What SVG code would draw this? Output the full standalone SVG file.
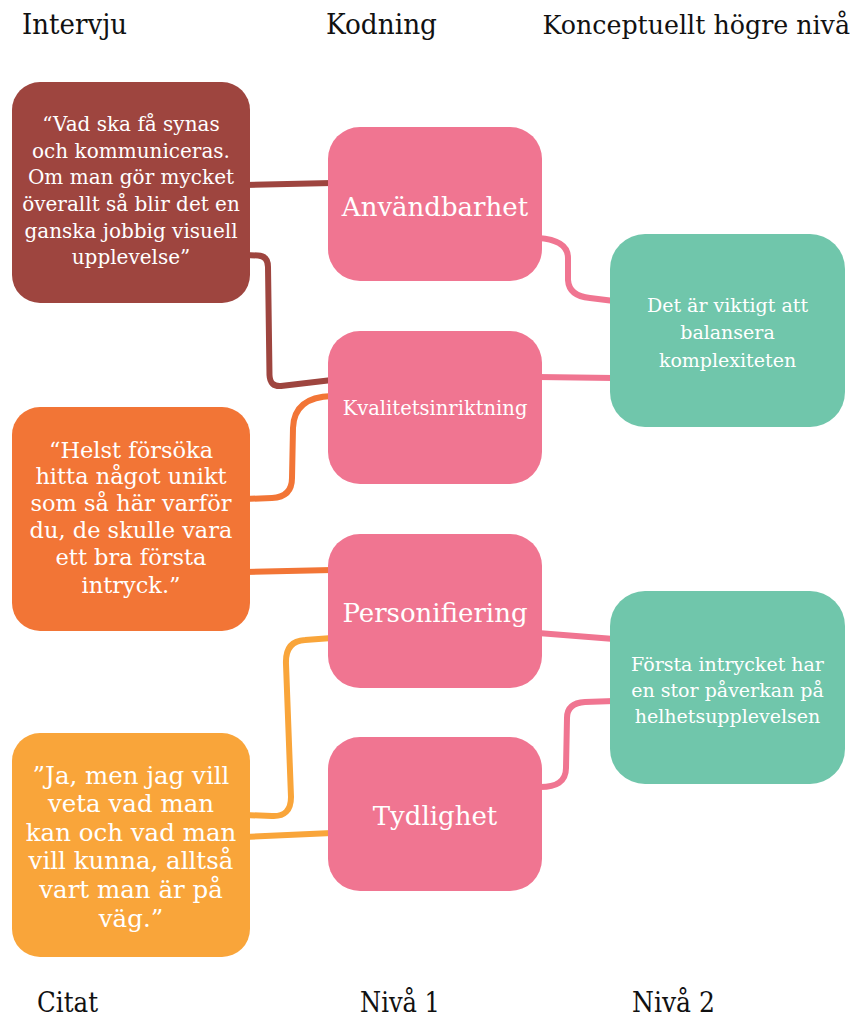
<svg xmlns="http://www.w3.org/2000/svg" width="854" height="1016" viewBox="0 0 854 1016">
<style>
text{font-family:"DejaVu Serif","Liberation Serif",serif;}
.hdr{font-size:27px;fill:#111;}
.hdr2{font-size:25.3px;fill:#111;text-anchor:end;}
.t{fill:#fff;text-anchor:middle;}
.c{fill:none;stroke-width:6;stroke-linecap:butt;stroke-linejoin:round;}
.red{stroke:#9E453F;} .org{stroke:#F27536;} .yel{stroke:#F9A53A;} .pnk{stroke:#F07591;}
</style>
<rect width="854" height="1016" fill="#fff"/>
<g id="headers">
<text class="hdr" x="22" y="34" textLength="105" lengthAdjust="spacingAndGlyphs">Intervju</text>
<text class="hdr" x="326" y="34" textLength="111" lengthAdjust="spacingAndGlyphs">Kodning</text>
<text class="hdr2" x="850" y="34">Konceptuellt högre nivå</text>
<text class="hdr" x="37" y="1012" textLength="61" lengthAdjust="spacingAndGlyphs">Citat</text>
<text class="hdr" x="360" y="1012" textLength="80" lengthAdjust="spacingAndGlyphs">Nivå 1</text>
<text class="hdr" x="632" y="1012" textLength="83" lengthAdjust="spacingAndGlyphs">Nivå 2</text>
</g>
<g id="connectors">
<path class="c red" d="M245,185 L332,183"/>
<path class="c red" d="M245,255 L258,255.5 Q268,256 268,267 L269.5,375 Q270,387 281,386 L332,380"/>
<path class="c org" d="M245,499 L272,498 Q292,497 292,478 L293,428 Q294,397 332,396"/>
<path class="c org" d="M245,572 L332,570"/>
<path class="c yel" d="M245,815 L272,816 Q291,817 291,797 L286,664 Q285,641 305,640 L332,638"/>
<path class="c yel" d="M245,837 L332,833"/>
<path class="c pnk" d="M538,238 Q568,240 568,258 L568,280 Q569,296 590,298 L614,301"/>
<path class="c pnk" d="M538,377 L614,378"/>
<path class="c pnk" d="M538,633 L614,639"/>
<path class="c pnk" d="M538,787 Q566,788 566,768 L567,718 Q567,703 585,702 L614,701"/>
</g>
<g id="quote1">
<rect x="12" y="82" width="238" height="221" rx="28" fill="#9E453F"/>
<text class="t" font-size="20" x="131" y="131">“Vad ska få synas</text>
<text class="t" font-size="20" x="131" y="157.7">och kommuniceras.</text>
<text class="t" font-size="20" x="131" y="184.3">Om man gör mycket</text>
<text class="t" font-size="20" x="131" y="211">överallt så blir det en</text>
<text class="t" font-size="20" x="131" y="237.7">ganska jobbig visuell</text>
<text class="t" font-size="20" x="131" y="264.3">upplevelse”</text>
</g>
<g id="quote2">
<rect x="12" y="407" width="238" height="224" rx="28" fill="#F27536"/>
<text class="t" font-size="22.5" x="131" y="457.5">“Helst försöka</text>
<text class="t" font-size="22.5" x="131" y="484">hitta något unikt</text>
<text class="t" font-size="22.5" x="131" y="510.5">som så här varför</text>
<text class="t" font-size="22.5" x="131" y="538">du, de skulle vara</text>
<text class="t" font-size="22.5" x="131" y="565">ett bra första</text>
<text class="t" font-size="22.5" x="131" y="592.5">intryck.”</text>
</g>
<g id="quote3">
<rect x="12" y="733" width="238" height="224" rx="28" fill="#F9A53A"/>
<text class="t" font-size="24.5" x="131" y="783.5">”Ja, men jag vill</text>
<text class="t" font-size="24.5" x="131" y="812">veta vad man</text>
<text class="t" font-size="24.5" x="131" y="840.7">kan och vad man</text>
<text class="t" font-size="24.5" x="131" y="869.3">vill kunna, alltså</text>
<text class="t" font-size="24.5" x="131" y="898">vart man är på</text>
<text class="t" font-size="24.5" x="131" y="926.7">väg.”</text>
</g>
<g id="code1">
<rect x="328" y="127" width="214" height="154" rx="32" fill="#F07591"/>
<text class="t" font-size="26" x="435" y="216">Användbarhet</text>
</g>
<g id="code2">
<rect x="328" y="331" width="214" height="153" rx="32" fill="#F07591"/>
<text class="t" font-size="19.5" x="435" y="415">Kvalitetsinriktning</text>
</g>
<g id="code3">
<rect x="328" y="534" width="214" height="154" rx="32" fill="#F07591"/>
<text class="t" font-size="26" x="435" y="622">Personifiering</text>
</g>
<g id="code4">
<rect x="328" y="737" width="214" height="154" rx="32" fill="#F07591"/>
<text class="t" font-size="26" x="435" y="825">Tydlighet</text>
</g>
<g id="concept1">
<rect x="610" y="234" width="235" height="193" rx="35" fill="#70C6AB"/>
<text class="t" font-size="19" x="727.5" y="311.5">Det är viktigt att</text>
<text class="t" font-size="19" x="727.5" y="339">balansera</text>
<text class="t" font-size="19" x="727.5" y="366.5">komplexiteten</text>
</g>
<g id="concept2">
<rect x="610" y="591" width="235" height="193" rx="35" fill="#70C6AB"/>
<text class="t" font-size="19" x="727.5" y="671">Första intrycket har</text>
<text class="t" font-size="19" x="727.5" y="697">en stor påverkan på</text>
<text class="t" font-size="19" x="727.5" y="723">helhetsupplevelsen</text>
</g>
</svg>
